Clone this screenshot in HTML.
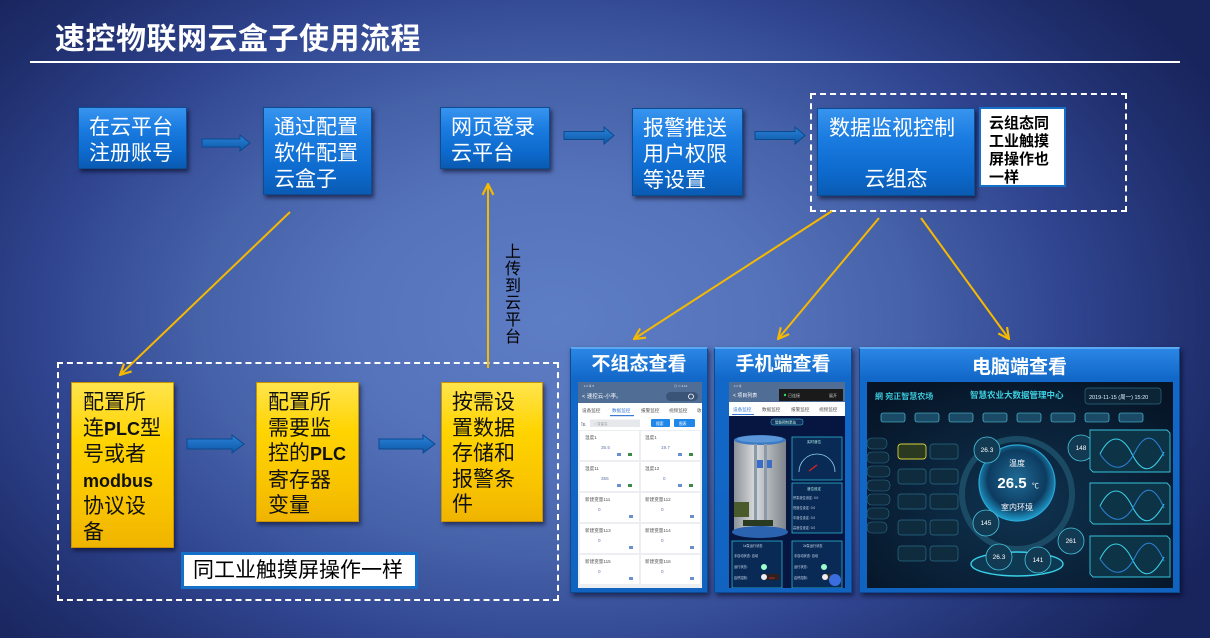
<!DOCTYPE html>
<html><head><meta charset="utf-8">
<style>
*{margin:0;padding:0;box-sizing:border-box}
html,body{width:1210px;height:638px;overflow:hidden}
body{position:relative;font-family:"Liberation Sans","Noto Sans CJK SC",sans-serif;
background:radial-gradient(ellipse 62% 78% at 46% 50%,#5d7dc5 0%,#5573bb 28%,#4561a8 48%,#304590 68%,#1f2e6c 88%,#18245c 100%);}
.abs{position:absolute}
.title{left:55px;top:21px;font-size:30px;font-weight:bold;color:#fff;letter-spacing:0.5px;line-height:38px;font-family:"Liberation Sans","Noto Sans CJK SC",sans-serif}
.rule{left:30px;top:61px;width:1150px;height:2px;background:#fff}
.bb{position:absolute;background:linear-gradient(#3894ee 0%,#1a7be0 35%,#0d69cc 75%,#0a5bb2 100%);border:1px solid #0b4c93;box-shadow:2px 3px 4px rgba(0,0,20,.55);color:#fff;font-size:21px;line-height:26px;padding:7px 0 0 10px;white-space:nowrap}
.yb{position:absolute;background:linear-gradient(#ffe44d 0%,#ffd400 35%,#f8c300 75%,#f0b400 100%);border:1px solid #c89200;box-shadow:2px 3px 4px rgba(0,0,20,.5);color:#111;font-size:21px;line-height:25.6px;padding:7px 0 0 11px;white-space:nowrap}
.yb b{font-family:"Liberation Sans",sans-serif;font-weight:bold;font-size:18px}
.dash{position:absolute;border:2px dashed #fff}
.panel{position:absolute;background:linear-gradient(#2a86e6,#1268c8 12%,#1163c0);border:1px solid #0d4a94;border-top:2px solid #5aa8f2;box-shadow:2px 3px 5px rgba(0,0,20,.55)}
.ptitle{position:absolute;left:0;right:0;text-align:center;color:#fff;font-weight:bold;font-size:19px;line-height:24px}
.inner{position:absolute}
</style></head><body>

<div class="abs title">速控物联网云盒子使用流程</div>
<div class="abs rule"></div>

<div class="dash" style="left:810px;top:93px;width:317px;height:119px"></div>
<div class="dash" style="left:57px;top:362px;width:502px;height:239px"></div>

<svg class="abs" style="left:0;top:0" width="1210" height="638" viewBox="0 0 1210 638">
<defs>
<marker id="ah" viewBox="0 0 12 12" refX="11" refY="6" markerWidth="13" markerHeight="13" markerUnits="userSpaceOnUse" orient="auto">
<path d="M1,1 L11,6 L1,11" fill="none" stroke="#f6b900" stroke-width="2"/>
</marker>
<linearGradient id="ba" x1="0" y1="0" x2="0" y2="1"><stop offset="0" stop-color="#2a82d8"/><stop offset="1" stop-color="#0d58a8"/></linearGradient>
</defs>
<g fill="url(#ba)" stroke="#0c4a8e" stroke-width="1">
<polygon points="202,139 240,139 240,135 250,143 240,151 240,147 202,147"/>
<polygon points="564,131.5 604,131.5 604,127 614,135.5 604,144 604,139.5 564,139.5"/>
<polygon points="755,131.5 795,131.5 795,127 805,135.5 795,144 795,139.5 755,139.5"/>
<polygon points="187,439 232,439 232,435 244,444 232,453 232,449 187,449"/>
<polygon points="379,439 423,439 423,435 435,444 423,453 423,449 379,449"/>
</g>
<g stroke="#f6b900" stroke-width="2" fill="none" marker-end="url(#ah)">
<line x1="290" y1="212" x2="120" y2="375"/>
<line x1="832" y1="211" x2="634" y2="339"/>
<line x1="879" y1="218" x2="778" y2="339"/>
<line x1="921" y1="218" x2="1009" y2="339"/>
<line x1="488" y1="368" x2="488" y2="184"/>
</g>
</svg>

<div class="bb" style="left:78px;top:107px;width:109px;height:62px">在云平台<br>注册账号</div>
<div class="bb" style="left:263px;top:107px;width:109px;height:88px">通过配置<br>软件配置<br>云盒子</div>
<div class="bb" style="left:440px;top:107px;width:110px;height:62px">网页登录<br>云平台</div>
<div class="bb" style="left:632px;top:108px;width:111px;height:88px">报警推送<br>用户权限<br>等设置</div>
<div class="bb" style="left:817px;top:108px;width:158px;height:88px;padding-left:11px">数据监视控制<div style="position:absolute;left:0;right:0;top:58px;text-align:center">云组态</div></div>
<div class="abs" style="left:979px;top:107px;width:87px;height:80px;background:#fff;border:2px solid #1670c8;color:#000;font-weight:bold;font-size:15px;line-height:18px;padding:6px 0 0 8px">云组态同<br>工业触摸<br>屏操作也<br>一样</div>

<div class="abs" style="left:504px;top:244px;width:18px;font-size:16px;line-height:17px;color:#000;text-align:center">上<br>传<br>到<br>云<br>平<br>台</div>

<div class="yb" style="left:71px;top:382px;width:103px;height:166px">配置所<br>连<b>PLC</b>型<br>号或者<br><b>modbus</b><br>协议设<br>备</div>
<div class="yb" style="left:256px;top:382px;width:103px;height:140px">配置所<br>需要监<br>控的<b>PLC</b><br>寄存器<br>变量</div>
<div class="yb" style="left:441px;top:382px;width:102px;height:140px;padding-left:10px">按需设<br>置数据<br>存储和<br>报警条<br>件</div>

<div class="abs" style="left:181px;top:552px;width:237px;height:37px;background:#fff;border:3px solid #1670c8;color:#000;font-size:21px;line-height:31px;padding-left:9px;white-space:nowrap">同工业触摸屏操作一样</div>

<div class="panel" style="left:570px;top:347px;width:138px;height:246px">
<div class="ptitle" style="top:4px">不组态查看</div>
<svg class="inner" style="left:7px;top:33px" width="124" height="206" viewBox="0 0 124 206" font-family="Liberation Sans, Noto Sans CJK SC, sans-serif">
<rect width="124" height="206" fill="#eceef2"/>
<rect width="124" height="21" fill="#506d95"/>
<text x="5" y="5" font-size="3" fill="#dfe6f0">.ıl ıl 令 5</text>
<text x="96" y="5" font-size="3" fill="#dfe6f0">◎ ▭ 4:12</text>
<text x="4" y="16" font-size="5.5" fill="#fff">&lt;  速控云-小李。</text>
<rect x="88" y="10" width="32" height="9" rx="4.5" fill="#3a5478"/>
<circle cx="113" cy="14.5" r="2.5" fill="none" stroke="#fff" stroke-width=".8"/>
<rect y="21" width="124" height="14" fill="#fff"/>
<g font-size="4.6" fill="#555"><text x="4" y="30">设备监控</text><text x="34" y="30" fill="#3a7bd5">数据监控</text><text x="63" y="30">报警监控</text><text x="91" y="30">视频监控</text><text x="119" y="30">收</text></g>
<rect x="32" y="33" width="24" height="1.2" fill="#3a7bd5"/>
<rect y="35" width="124" height="13" fill="#fff"/>
<text x="3" y="44" font-size="5" fill="#5a6a88">℡</text>
<rect x="12" y="37.5" width="50" height="7.5" fill="#e6e8ec"/>
<text x="16" y="43" font-size="3.5" fill="#999">○ 变量名</text>
<rect x="73" y="37" width="19" height="8" rx="1" fill="#1f87e8"/><text x="78" y="43" font-size="3.8" fill="#fff">搜索</text>
<rect x="96" y="37" width="21" height="8" rx="1" fill="#1f87e8"/><text x="101" y="43" font-size="3.8" fill="#fff">图表</text>
<g font-size="4.6">
<rect x="2" y="49" width="59" height="29" fill="#fff"/><rect x="63" y="49" width="59" height="29" fill="#fff"/>
<text x="7" y="57" fill="#555">温度1</text><text x="23" y="67" fill="#5f78a8">35.5</text>
<text x="67" y="57" fill="#555">温度1</text><text x="83" y="67" fill="#5f78a8">19.7</text>
<rect x="2" y="80" width="59" height="29" fill="#fff"/><rect x="63" y="80" width="59" height="29" fill="#fff"/>
<text x="7" y="88" fill="#555">温度11</text><text x="23" y="98" fill="#5f78a8">355</text>
<text x="67" y="88" fill="#555">温度12</text><text x="85" y="98" fill="#5f78a8">0</text>
<rect x="2" y="111" width="59" height="29" fill="#fff"/><rect x="63" y="111" width="59" height="29" fill="#fff"/>
<text x="7" y="119" fill="#555">新建变量111</text><text x="20" y="129" fill="#5f78a8">0</text>
<text x="67" y="119" fill="#555">新建变量112</text><text x="83" y="129" fill="#5f78a8">0</text>
<rect x="2" y="142" width="59" height="29" fill="#fff"/><rect x="63" y="142" width="59" height="29" fill="#fff"/>
<text x="7" y="150" fill="#555">新建变量113</text><text x="20" y="160" fill="#5f78a8">0</text>
<text x="67" y="150" fill="#555">新建变量114</text><text x="83" y="160" fill="#5f78a8">0</text>
<rect x="2" y="173" width="59" height="29" fill="#fff"/><rect x="63" y="173" width="59" height="29" fill="#fff"/>
<text x="7" y="181" fill="#555">新建变量115</text><text x="20" y="191" fill="#5f78a8">0</text>
<text x="67" y="181" fill="#555">新建变量116</text><text x="83" y="191" fill="#5f78a8">0</text>
</g>
<g fill="#6a8fd0">
<rect x="39" y="71" width="4" height="3"/><rect x="100" y="71" width="4" height="3"/><rect x="39" y="102" width="4" height="3"/><rect x="100" y="102" width="4" height="3"/>
<rect x="51" y="133" width="4" height="3"/><rect x="112" y="133" width="4" height="3"/><rect x="51" y="164" width="4" height="3"/><rect x="112" y="164" width="4" height="3"/><rect x="51" y="195" width="4" height="3"/><rect x="112" y="195" width="4" height="3"/>
</g>
<g fill="#3a8a4a"><rect x="50" y="71" width="4" height="3"/><rect x="111" y="71" width="4" height="3"/><rect x="50" y="102" width="4" height="3"/><rect x="111" y="102" width="4" height="3"/></g>
</svg>
</div>

<div class="panel" style="left:714px;top:347px;width:138px;height:246px">
<div class="ptitle" style="top:4px">手机端查看</div>
<svg class="inner" style="left:14px;top:33px" width="116" height="206" viewBox="0 0 116 206" font-family="Liberation Sans, Noto Sans CJK SC, sans-serif">
<defs>
<linearGradient id="cyl" x1="0" x2="1"><stop offset="0" stop-color="#8d9399"/><stop offset=".4" stop-color="#d8dadc"/><stop offset="1" stop-color="#7d848a"/></linearGradient>
</defs>
<rect width="116" height="206" fill="#061640"/>
<rect width="116" height="20" fill="#506d95"/>
<text x="4" y="5" font-size="3" fill="#dfe6f0">.ıl ıl 令</text>
<text x="4" y="15" font-size="5" fill="#fff">&lt;  项目列表</text>
<rect x="50" y="7" width="64" height="12" fill="#1a1a1a"/>
<circle cx="56" cy="13" r="1.2" fill="#2ee06a"/>
<text x="59" y="15" font-size="4" fill="#ccc">已连接</text><text x="100" y="15" font-size="4" fill="#ccc">展开</text>
<rect y="20" width="116" height="14" fill="#fff"/>
<g font-size="4.6" fill="#555"><text x="4" y="29" fill="#3a7bd5">设备监控</text><text x="33" y="29">数据监控</text><text x="62" y="29">报警监控</text><text x="90" y="29">视频监控</text></g>
<rect x="3" y="32" width="22" height="1" fill="#3a7bd5"/>
<rect x="42" y="37" width="32" height="6" rx="2" fill="#14305e" stroke="#3ac7e8" stroke-width=".5"/>
<text x="46" y="41.5" font-size="3.5" fill="#bfe">智能预制泵站</text>
<rect x="5" y="58" width="52" height="92" fill="url(#cyl)"/>
<ellipse cx="31" cy="58" rx="26" ry="5" fill="#3d7ac4"/>
<ellipse cx="31" cy="57" rx="23" ry="3.5" fill="#5a96d8"/>
<ellipse cx="31" cy="150" rx="28" ry="6" fill="#2b63b0"/>
<rect x="25" y="62" width="3" height="80" fill="#8a9aa8"/><rect x="35" y="62" width="3" height="80" fill="#8a9aa8"/>
<rect x="28" y="78" width="6" height="8" fill="#3b6cc8"/><rect x="38" y="78" width="5" height="8" fill="#3b6cc8"/>
<rect x="5" y="120" width="15" height="15" fill="#4a5a2a"/>
<rect x="14" y="138" width="30" height="6" fill="#2a3a20"/>
<rect x="63" y="55" width="50" height="43" fill="#0a2a56" stroke="#2fc6e0" stroke-width=".7"/>
<text x="78" y="61" font-size="3.5" fill="#bfe">实时液位</text>
<path d="M70,90 A18,18 0 1 1 106,90" fill="none" stroke="#8fd4f0" stroke-width=".8"/>
<line x1="88" y1="83" x2="80" y2="89" stroke="#e02020" stroke-width="1.4"/>
<rect x="63" y="101" width="50" height="50" fill="#0a2a56" stroke="#2fc6e0" stroke-width=".7"/>
<text x="78" y="108" font-size="3.5" fill="#bfe">液位设定</text>
<g font-size="3.2" fill="#cde"><text x="64" y="117">停泵液位设定: 0.0</text><text x="64" y="127">低液位设定: 0.0</text><text x="64" y="137">中液位设定: 0.0</text><text x="64" y="147">高液位设定: 0.0</text></g>
<rect x="3" y="159" width="50" height="47" fill="#0a2a56" stroke="#2fc6e0" stroke-width=".7"/>
<rect x="63" y="159" width="50" height="47" fill="#0a2a56" stroke="#2fc6e0" stroke-width=".7"/>
<g font-size="3.2" fill="#cde"><text x="14" y="165">1#泵运行状态</text><text x="74" y="165">2#泵运行状态</text>
<text x="5" y="175">手自动状态: 自动</text><text x="65" y="175">手自动状态: 自动</text>
<text x="5" y="186">运行状态:</text><text x="65" y="186">运行状态:</text>
<text x="5" y="197">启停控制:</text><text x="65" y="197">启停控制:</text></g>
<circle cx="35" cy="185" r="3" fill="#9fc"/><circle cx="95" cy="185" r="3" fill="#9fc"/>
<rect x="33" y="192" width="18" height="6" rx="3" fill="#302020"/><circle cx="35" cy="195" r="3" fill="#eee"/><text x="40" y="197" font-size="3" fill="#f33">OFF</text>
<rect x="93" y="192" width="14" height="6" rx="3" fill="#303030"/><circle cx="96" cy="195" r="3" fill="#eee"/>
<circle cx="106" cy="198" r="6" fill="#3a6ee0"/>
</svg>
</div>

<div class="panel" style="left:859px;top:347px;width:321px;height:246px">
<div class="ptitle" style="top:7px">电脑端查看</div>
<svg class="inner" style="left:7px;top:33px" width="306" height="206" viewBox="0 0 306 206" font-family="Liberation Sans, Noto Sans CJK SC, sans-serif">
<defs>
<radialGradient id="glb" cx=".5" cy=".45" r=".55"><stop offset="0" stop-color="#1f6b96"/><stop offset=".7" stop-color="#0d3b60"/><stop offset="1" stop-color="#1f9fcf"/></radialGradient>
<radialGradient id="dbg" cx=".5" cy=".6" r=".7"><stop offset="0" stop-color="#0f3350"/><stop offset="1" stop-color="#061426"/></radialGradient>
</defs>
<rect width="306" height="206" fill="url(#dbg)"/>
<text x="8" y="17" font-size="8" font-weight="bold" fill="#3cc8d8">網 宛正智慧农场</text>
<text x="103" y="16" font-size="8.5" font-weight="bold" fill="#3cd0e0">智慧农业大数据管理中心</text>
<rect x="218" y="6" width="76" height="16" rx="3" fill="#0c2436" stroke="#2c6a80" stroke-width=".7"/>
<text x="222" y="17" font-size="5.5" fill="#e0f0ff">2019-11-15 (周一)  15:20</text>
<g fill="#1a4a66" stroke="#5ad8f0" stroke-width=".6">
<rect x="14" y="31" width="24" height="9" rx="2"/><rect x="48" y="31" width="24" height="9" rx="2"/><rect x="82" y="31" width="24" height="9" rx="2"/><rect x="116" y="31" width="24" height="9" rx="2"/>
<rect x="150" y="31" width="24" height="9" rx="2"/><rect x="184" y="31" width="24" height="9" rx="2"/><rect x="218" y="31" width="24" height="9" rx="2"/><rect x="252" y="31" width="24" height="9" rx="2"/>
</g>
<g fill="#0e2a3c" stroke="#2a7090" stroke-width=".6">
<rect x="0" y="56" width="20" height="11" rx="5"/><rect x="0" y="70" width="22" height="11" rx="5"/><rect x="0" y="84" width="23" height="11" rx="5"/><rect x="0" y="98" width="23" height="11" rx="5"/><rect x="0" y="112" width="23" height="11" rx="5"/><rect x="0" y="126" width="22" height="11" rx="5"/><rect x="0" y="140" width="20" height="11" rx="5"/>
</g>
<g fill="#0f2c3e" stroke="#2a6a86" stroke-width=".7">
<rect x="63" y="62" width="28" height="15" rx="3"/>
<rect x="31" y="87" width="28" height="15" rx="3"/><rect x="63" y="87" width="28" height="15" rx="3"/>
<rect x="31" y="112" width="28" height="15" rx="3"/><rect x="63" y="112" width="28" height="15" rx="3"/>
<rect x="31" y="138" width="28" height="15" rx="3"/><rect x="63" y="138" width="28" height="15" rx="3"/>
<rect x="31" y="164" width="28" height="15" rx="3"/><rect x="63" y="164" width="28" height="15" rx="3"/>
</g>
<rect x="31" y="62" width="28" height="15" rx="3" fill="#2a3a20" stroke="#d8d040" stroke-width=".9"/>
<circle cx="150" cy="112" r="55" fill="none" stroke="#1b4a64" stroke-width="6"/>
<ellipse cx="150" cy="182" rx="46" ry="12" fill="#0d3a52" stroke="#39d0e8" stroke-width="1.4"/>
<circle cx="150" cy="101" r="38" fill="url(#glb)" stroke="#2aa8d8" stroke-width="1.2"/>
<text x="150" y="84" font-size="8" fill="#fff" text-anchor="middle">温度</text>
<text x="145" y="106" font-size="15" font-weight="bold" fill="#fff" text-anchor="middle">26.5</text>
<text x="165" y="106" font-size="7" fill="#fff">℃</text>
<text x="150" y="128" font-size="8" fill="#fff" text-anchor="middle">室内环境</text>
<g fill="#123a52" stroke="#46c4e0" stroke-width=".8">
<circle cx="120" cy="68" r="13"/><circle cx="214" cy="66" r="13"/><circle cx="119" cy="141" r="13"/><circle cx="132" cy="175" r="13"/><circle cx="171" cy="178" r="13"/><circle cx="204" cy="159" r="13"/>
</g>
<g font-size="6.5" fill="#fff" text-anchor="middle"><text x="120" y="70">26.3</text><text x="214" y="68">148</text><text x="119" y="143">145</text><text x="132" y="177">26.3</text><text x="171" y="180">141</text><text x="204" y="161">261</text></g>
<g fill="#0d3346" stroke="#35c2da" stroke-width=".9">
<path d="M223,48 L300,48 L303,51 L303,90 L226,90 L223,87 Z"/>
<path d="M223,101 L300,101 L303,104 L303,142 L226,142 L223,139 Z"/>
<path d="M223,154 L300,154 L303,157 L303,195 L226,195 L223,192 Z"/>
</g>
<g fill="none" stroke="#3ad0e8" stroke-width="1.1">
<path d="M233,72 C243,52 255,52 265,72 S285,92 297,70"/><path d="M233,72 C245,90 258,90 268,70 S288,52 297,74" stroke="#2b7fd0"/>
<path d="M233,124 C243,104 255,104 265,124 S285,144 297,122"/><path d="M233,124 C245,142 258,142 268,122 S288,104 297,126" stroke="#2b7fd0"/>
<path d="M233,177 C243,157 255,157 265,177 S285,197 297,175"/><path d="M233,177 C245,195 258,195 268,175 S288,157 297,179" stroke="#2b7fd0"/>
</g>
</svg>
</div>

</body></html>
